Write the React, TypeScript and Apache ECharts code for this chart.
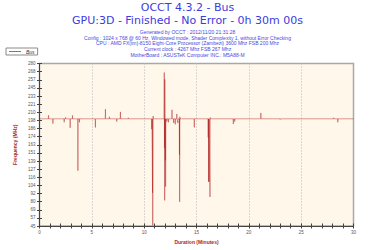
import React, { useEffect, useRef } from "react";
import * as echarts from "echarts";

const titleText = "OCCT 4.3.2 - Bus";
const subtitleText = "GPU:3D - Finished - No Error - 0h 30m 00s";
const infoLines = [
  "Generated by OCCT : 2012/11/20 21:31:28",
  "Config : 1024 x 768 @ 60 Hz, Windowed mode, Shader Complexity 1, without Error Checking",
  "CPU : AMD FX(tm)-8150 Eight-Core Processor (Zambezi) 3600 Mhz FSB 200 Mhz",
  "Current clock : 4267 Mhz FSB 267 Mhz",
  "MotherBoard : ASUSTeK Computer INC.: M5A88-M",
];
const seriesName = "Bus";
const xAxisName = "Duration (Minutes)";
const yAxisName = "Frequency (MHz)";
const xMin = 0;
const xMax = 30;
const yTickValues = [
  45, 56.75, 68.5, 80.25, 92, 103.75, 115.5, 127.25, 139, 150.75, 162.5,
  174.25, 186, 197.75, 209.5, 221.25, 233, 244.75, 256.5, 268.25, 280,
];

// time (minutes) / bus frequency (MHz) samples
const timeMinutes = [
  0, 0.84, 0.86, 0.88, 1.26, 1.28, 1.3, 2.34, 2.36, 2.38, 2.47, 2.49, 2.51,
  2.91, 2.93, 2.95, 3.13, 3.15, 3.17, 3.65, 3.67, 3.69, 3.8, 3.82, 3.84,
  5.32, 5.34, 5.36, 6.28, 6.3, 6.32, 6.66, 6.68, 6.7, 7.36, 7.38, 7.4,
  7.71, 7.73, 7.75, 8.47, 8.49, 8.51, 10.7, 10.72, 10.74, 10.78, 10.8,
  10.81, 10.82, 10.84, 10.86, 10.88, 11.9, 11.92, 11.93, 11.94, 11.95,
  11.96, 11.97, 11.99, 12.02, 12.03, 12.04, 12.05, 12.07, 12.15, 12.17,
  12.19, 12.3, 12.32, 12.34, 12.64, 12.66, 12.68, 12.8, 12.82, 12.84,
  12.95, 12.97, 12.99, 13.1, 13.12, 13.14, 13.2, 13.22, 13.24, 13.35,
  13.37, 13.38, 13.39, 13.41, 13.43, 14.77, 14.79, 14.81, 16.1, 16.12,
  16.14, 16.16, 16.17, 16.19, 16.21, 16.27, 16.29, 16.31, 16.33, 18.5,
  18.52, 18.54, 18.63, 18.65, 18.67, 21.13, 21.15, 21.17, 22.98, 23.0,
  23.02, 28.08, 28.1, 28.12, 28.48, 28.5, 28.52, 30,
];
const busMHz = [
  200, 200, 205, 200, 200, 193, 200, 200, 195, 200, 200, 202, 200,
  200, 187, 200, 200, 205, 200, 200, 125, 200, 200, 195, 200,
  200, 187.5, 200, 200, 214, 200, 200, 203, 200, 200, 196, 200,
  200, 210, 200, 200, 201.5, 200, 200, 185, 200, 200, 93,
  200, 46, 200, 204, 200, 200, 267, 200, 158, 200,
  82, 257, 200, 200, 140, 200, 102, 200, 200, 196,
  200, 200, 195, 200, 200, 213, 200, 200, 194, 200,
  200, 192, 200, 200, 207, 200, 200, 194, 200, 200,
  148, 200, 80, 203, 200, 200, 187.5, 200, 200, 173,
  200, 109, 200, 109, 200, 200, 87, 202, 200, 200,
  192.5, 200, 200, 196, 200, 200, 208.5, 200, 200, 199,
  200, 200, 201.5, 200, 200, 195, 200, 200,
];

const GRID = { left: 39.5, right: 21.5, top: 63.5, bottom: 24 };
const SMALL_FONT = "Liberation Sans";

export default function App() {
  const ref = useRef<HTMLDivElement>(null);
  useEffect(() => {
    if (!ref.current) return;
    const chart = echarts.init(ref.current, null, { renderer: "svg" });
    const seriesData = timeMinutes.map((t, i) => [t, busMHz[i]]);
    const infoTitles = infoLines.map((line, i) => ({
      text: line,
      left: "center",
      top: 29.3 + i * 5.8,
      padding: 0,
      textStyle: {
        fontFamily: SMALL_FONT,
        fontSize: 5,
        fontWeight: "normal",
        color: "#4848e0",
      },
    }));
    chart.setOption({
      animation: false,
      backgroundColor: "#ffffff",
      title: [
        {
          text: titleText,
          left: "center",
          top: 2,
          padding: 0,
          textStyle: { fontFamily: "DejaVu Sans", fontSize: 11, fontWeight: "normal", color: "#3b3be0" },
        },
        {
          text: subtitleText,
          left: "center",
          top: 15.3,
          padding: 0,
          textStyle: { fontFamily: "DejaVu Sans", fontSize: 11, fontWeight: "normal", color: "#3b3be0" },
        },
        ...infoTitles,
      ],
      legend: {
        left: 6,
        top: 48,
        orient: "horizontal",
        padding: [1, 3],
        itemGap: 0,
        itemWidth: 12,
        itemHeight: 1,
        backgroundColor: "#ffffff",
        borderColor: "#8a8a8a",
        borderWidth: 1,
        textStyle: { fontFamily: SMALL_FONT, fontSize: 5, fontStyle: "italic", color: "#333" },
        data: [{ name: seriesName, icon: "rect", itemStyle: { color: "#c85a5a" } }],
      },
      grid: {
        ...GRID,
        show: true,
        backgroundColor: "#fff8ea",
        borderColor: "#a8a8a8",
        borderWidth: 1.5,
        containLabel: false,
      },
      xAxis: [
        {
          type: "value",
          min: xMin,
          max: xMax,
          interval: 5,
          name: xAxisName,
          nameLocation: "middle",
          nameGap: 12.5,
          nameTextStyle: { fontFamily: SMALL_FONT, fontSize: 5, fontWeight: "bold", color: "#a52a2a" },
          axisLine: { show: true, onZero: false, lineStyle: { color: "#444", width: 1 } },
          axisTick: { show: true, inside: false, length: 2.5, lineStyle: { color: "#444" } },
          minorTick: { show: true, splitNumber: 5, length: 2.5, lineStyle: { color: "#444" } },
          axisLabel: { fontFamily: SMALL_FONT, fontSize: 4.5, color: "#555", margin: 4 },
          splitLine: {
            show: true,
            showMinLine: false,
            showMaxLine: false,
            lineStyle: { color: "#b8b8b8", type: [1, 2], width: 1 },
          },
        },
        {
          type: "value",
          min: xMin,
          max: xMax,
          interval: 1,
          position: "bottom",
          axisLine: { show: false },
          axisTick: { show: true, inside: true, length: 2.5, lineStyle: { color: "#444" } },
          axisLabel: { show: false },
          splitLine: { show: false },
        },
      ],
      yAxis: [
        {
          type: "value",
          min: 45,
          max: 280,
          name: yAxisName,
          nameLocation: "middle",
          nameGap: 8,
          nameRotate: 90,
          nameTextStyle: { fontFamily: SMALL_FONT, fontSize: 5, fontWeight: "bold", color: "#a52a2a" },
          axisLine: { show: true, onZero: false, lineStyle: { color: "#444", width: 1 } },
          axisTick: { show: true, inside: false, length: 2.5, customValues: yTickValues, lineStyle: { color: "#444" } },
          axisLabel: {
            fontFamily: SMALL_FONT,
            fontSize: 4.5,
            color: "#555",
            margin: 4,
            customValues: yTickValues,
            formatter: (v: number) => String(Math.round(v)),
          },
          splitLine: { show: false },
        },
        {
          type: "value",
          min: 45,
          max: 280,
          position: "left",
          axisLine: { show: false },
          axisTick: { show: true, inside: true, length: 2.5, customValues: yTickValues, lineStyle: { color: "#444" } },
          axisLabel: { show: false },
          splitLine: { show: false },
        },
      ],
      series: [
        {
          name: seriesName,
          type: "line",
          xAxisIndex: 0,
          yAxisIndex: 0,
          data: seriesData,
          showSymbol: false,
          symbol: "none",
          clip: true,
          lineStyle: { color: "#b01e1e", width: 1, opacity: 0.45 },
          itemStyle: { color: "#b01e1e" },
          emphasis: { disabled: true },
        },
      ],
    });
    return () => chart.dispose();
  }, []);
  return (
    <div
      ref={ref}
      style={{ position: "fixed", left: 0, top: 0, width: 375, height: 250 }}
    />
  );
}
